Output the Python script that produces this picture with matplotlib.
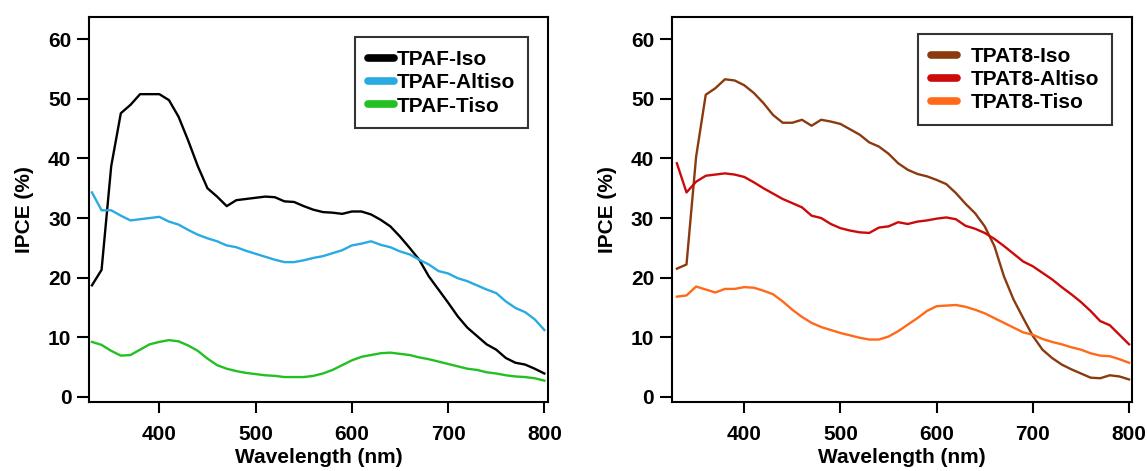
import numpy as np
import matplotlib
matplotlib.use("Agg")
import matplotlib.pyplot as plt
from matplotlib.lines import Line2D

plt.rcParams['font.family'] = ['Liberation Sans', 'DejaVu Sans']
plt.rcParams['font.weight'] = 'bold'

wl = list(range(330, 801, 10))

tpaf_iso = [18.7, 21.3, 38.7, 47.6, 49.0, 50.8, 50.8, 50.8, 49.8, 47.0,
            43.0, 38.7, 35.0, 33.6, 32.0, 33.0, 33.2, 33.4, 33.6, 33.5,
            32.8, 32.7, 32.0, 31.4, 31.0, 30.9, 30.7, 31.1, 31.1, 30.6,
            29.7, 28.6, 26.9, 25.0, 23.0, 20.2, 18.0, 15.8, 13.5, 11.6,
            10.2, 8.8, 7.9, 6.5, 5.7, 5.4, 4.7, 3.9]
tpaf_altiso = [34.3, 31.3, 31.3, 30.4, 29.6, 29.8, 30.0, 30.2, 29.4, 28.9,
               28.0, 27.2, 26.6, 26.1, 25.4, 25.1, 24.5, 24.0, 23.5, 23.0,
               22.6, 22.6, 22.9, 23.3, 23.6, 24.1, 24.6, 25.4, 25.7, 26.1,
               25.5, 25.1, 24.4, 23.9, 23.0, 22.2, 21.1, 20.7, 19.9, 19.4,
               18.7, 18.0, 17.4, 16.0, 14.9, 14.2, 13.0, 11.2]
tpaf_tiso = [9.2, 8.7, 7.7, 6.9, 7.0, 7.9, 8.8, 9.2, 9.5, 9.3,
             8.6, 7.7, 6.4, 5.3, 4.7, 4.3, 4.0, 3.8, 3.6, 3.5,
             3.3, 3.3, 3.3, 3.5, 3.9, 4.5, 5.3, 6.1, 6.7, 7.0,
             7.3, 7.4, 7.2, 7.0, 6.6, 6.3, 5.9, 5.5, 5.1, 4.7,
             4.5, 4.1, 3.9, 3.6, 3.4, 3.3, 3.1, 2.7]

tpat8_iso = [21.5, 22.2, 40.3, 50.7, 51.8, 53.3, 53.1, 52.3, 51.0, 49.3,
             47.3, 46.0, 46.0, 46.5, 45.5, 46.5, 46.2, 45.8, 44.9, 44.0,
             42.7, 42.0, 40.8, 39.2, 38.1, 37.4, 37.0, 36.4, 35.7, 34.2,
             32.4, 30.8, 28.6, 25.3, 20.2, 16.3, 13.2, 10.2, 7.9, 6.5,
             5.4, 4.6, 3.9, 3.2, 3.1, 3.6, 3.4, 2.9]
tpat8_altiso = [39.2, 34.3, 36.1, 37.1, 37.3, 37.5, 37.3, 36.9, 36.0, 35.0,
                34.1, 33.2, 32.5, 31.8, 30.4, 30.0, 29.0, 28.3, 27.9, 27.6,
                27.5, 28.4, 28.6, 29.3, 29.0, 29.4, 29.6, 29.9, 30.1, 29.8,
                28.7, 28.2, 27.5, 26.5, 25.3, 24.0, 22.7, 21.9, 20.8, 19.7,
                18.4, 17.2, 15.9, 14.4, 12.7, 12.0, 10.4, 8.8]
tpat8_tiso = [16.8, 17.0, 18.5, 18.0, 17.5, 18.1, 18.1, 18.4, 18.3, 17.8,
              17.2, 16.0, 14.6, 13.4, 12.4, 11.7, 11.2, 10.7, 10.3, 9.9,
              9.6, 9.6, 10.1, 11.0, 12.1, 13.2, 14.4, 15.2, 15.3, 15.4,
              15.1, 14.6, 14.0, 13.2, 12.4, 11.6, 10.8, 10.4, 9.7, 9.2,
              8.8, 8.3, 7.9, 7.3, 6.9, 6.8, 6.3, 5.7]

left_names = ['TPAF-Iso', 'TPAF-Altiso', 'TPAF-Tiso']
right_names = ['TPAT8-Iso', 'TPAT8-Altiso', 'TPAT8-Tiso']
left_colors = ['#000000', '#29abe2', '#22c022']
right_colors = ['#8b3a10', '#cc0a0a', '#ff6a1a']

x_ticks = [400, 500, 600, 700, 800]
y_ticks = [0, 10, 20, 30, 40, 50, 60]

FS = 15

fig = plt.figure(figsize=(11.47, 4.71), dpi=100)
ax1 = fig.add_axes([0.0779, 0.1471, 0.4002, 0.8161])
ax2 = fig.add_axes([0.5861, 0.1471, 0.4011, 0.8161])

def style(ax, series, names, colors, textpad, leg_anchor, xlim):
    for ys, c in zip(series, colors):
        ax.plot(wl, ys, color=c, lw=1.7)
    ax.set_xlim(*xlim)
    ax.set_ylim(-0.84, 63.7)
    ax.set_xticks(x_ticks)
    ax.set_yticks(y_ticks)
    ax.tick_params(axis='y', direction='out', length=9, width=1.5, labelsize=FS, pad=4)
    ax.tick_params(axis='x', direction='out', length=8, width=1.5, labelsize=FS, pad=9)
    for lab in ax.get_xticklabels() + ax.get_yticklabels():
        lab.set_fontweight('bold')
    for sp in ax.spines.values():
        sp.set_linewidth(1.5)
    ax.set_xlabel('Wavelength (nm)', fontsize=FS, fontweight='bold', labelpad=3)
    ax.set_ylabel('IPCE (%)', fontsize=FS, fontweight='bold', labelpad=10)
    handles = [Line2D([0], [0], color=c, lw=5.5, solid_capstyle='round') for c in colors]
    leg = ax.legend(handles, names, loc='upper right', bbox_to_anchor=leg_anchor,
                    frameon=True, fancybox=False, edgecolor='black',
                    prop={'weight': 'bold', 'size': FS}, handlelength=1.25,
                    handletextpad=textpad, labelspacing=0.2, borderpad=0.62,
                    borderaxespad=0.0)
    leg.get_frame().set_linewidth(1.5)

style(ax1, [tpaf_iso, tpaf_altiso, tpaf_tiso], left_names, left_colors, 0.15,
      (0.9564, 0.948), (327.3, 804.2))
style(ax2, [tpat8_iso, tpat8_altiso, tpat8_tiso], right_names, right_colors, 0.65,
      (0.956, 0.9566), (325.2, 803.4))

fig.savefig('out.png', dpi=100)
